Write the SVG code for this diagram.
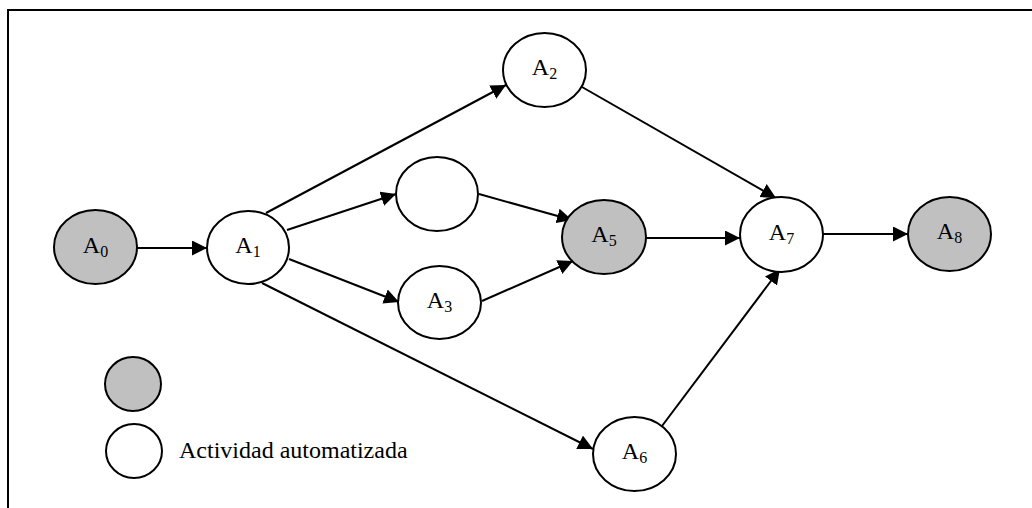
<svg xmlns="http://www.w3.org/2000/svg" width="1032" height="508" viewBox="0 0 1032 508">
  <style>
    .node { stroke: #000; stroke-width: 2; }
    .auto { fill: #fff; }
    .manual { fill: #c0c0c0; }
    .edge { stroke: #000; stroke-width: 2; fill: none; marker-end: url(#arrow); }
    .lbl { font-family: "Liberation Serif", "Times New Roman", serif; font-size: 24px; fill: #000; text-anchor: middle; }
    .sub { font-size: 16px; }
    .legend { font-family: "Liberation Serif", "Times New Roman", serif; font-size: 24px; fill: #000; }
    .frame { stroke: #000; stroke-width: 2; fill: none; }
  </style>
  <defs>
    <marker id="arrow" markerUnits="userSpaceOnUse" markerWidth="16" markerHeight="15" refX="15" refY="7.5" orient="auto">
      <path d="M0,0 L15,7.5 L0,15 Z" fill="#000"/>
    </marker>
  </defs>

  <rect width="1032" height="508" fill="#fff"/>
  <!-- open frame: top and left edges only -->
  <path class="frame" d="M8,508 L8,10 L1032,10"/>

  <g id="connectors">
    <line class="edge" x1="137" y1="248" x2="207" y2="248"/>
    <line class="edge" x1="266" y1="213" x2="506" y2="85"/>
    <line class="edge" x1="287" y1="230" x2="396" y2="194"/>
    <line class="edge" x1="289" y1="259" x2="399" y2="302"/>
    <line class="edge" x1="262" y1="283" x2="593" y2="449"/>
    <line class="edge" x1="479" y1="194" x2="572" y2="220"/>
    <line class="edge" x1="482" y1="301" x2="573" y2="261"/>
    <line class="edge" x1="582" y1="87" x2="776" y2="198"/>
    <line class="edge" x1="646" y1="238" x2="740" y2="238"/>
    <line class="edge" x1="662" y1="426" x2="780" y2="269"/>
    <line class="edge" x1="823" y1="234" x2="908" y2="234"/>
  </g>

  <g id="A0">
    <ellipse class="node manual" cx="95.5" cy="247" rx="41.5" ry="37"/>
    <text class="lbl" x="95.5" y="253">A<tspan class="sub" dy="4">0</tspan></text>
  </g>
  <g id="A1">
    <ellipse class="node auto" cx="248" cy="247.5" rx="41" ry="36.5"/>
    <text class="lbl" x="248" y="253">A<tspan class="sub" dy="4">1</tspan></text>
  </g>
  <g id="A2">
    <ellipse class="node auto" cx="544.5" cy="70" rx="41.5" ry="37"/>
    <text class="lbl" x="544.5" y="75">A<tspan class="sub" dy="4">2</tspan></text>
  </g>
  <g id="A4">
    <ellipse class="node auto" cx="437" cy="194" rx="41" ry="37"/>
  </g>
  <g id="A3">
    <ellipse class="node auto" cx="439.5" cy="302.5" rx="41.5" ry="36.5"/>
    <text class="lbl" x="439.5" y="308">A<tspan class="sub" dy="4">3</tspan></text>
  </g>
  <g id="A5">
    <ellipse class="node manual" cx="604" cy="237" rx="42" ry="37"/>
    <text class="lbl" x="604" y="242">A<tspan class="sub" dy="4">5</tspan></text>
  </g>
  <g id="A6">
    <ellipse class="node auto" cx="634.5" cy="454" rx="41.5" ry="37"/>
    <text class="lbl" x="634.5" y="459">A<tspan class="sub" dy="4">6</tspan></text>
  </g>
  <g id="A7">
    <ellipse class="node auto" cx="781.5" cy="234.5" rx="41.5" ry="37.5"/>
    <text class="lbl" x="781.5" y="239.5">A<tspan class="sub" dy="4">7</tspan></text>
  </g>
  <g id="A8">
    <ellipse class="node manual" cx="949.5" cy="234" rx="41.5" ry="37"/>
    <text class="lbl" x="949.5" y="239">A<tspan class="sub" dy="4">8</tspan></text>
  </g>

  <g id="legend">
    <ellipse class="node manual" cx="133" cy="384" rx="28" ry="27"/>
    <ellipse class="node auto" cx="134" cy="451" rx="28" ry="27"/>
    <text class="legend" x="179" y="458">Actividad automatizada</text>
  </g>
</svg>
